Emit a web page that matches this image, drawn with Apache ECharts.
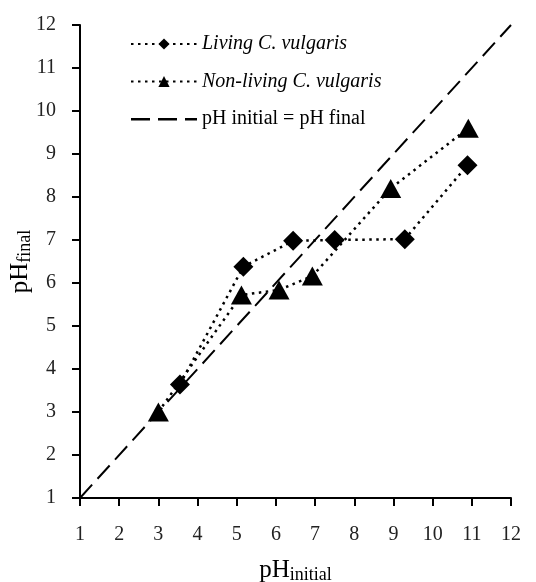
<!DOCTYPE html>
<html>
<head>
<meta charset="utf-8">
<script src="https://cdn.jsdelivr.net/npm/echarts@6.0.0/dist/echarts.min.js"></script>
<style>
  html, body { margin: 0; padding: 0; background: #fff; }
  #chart { width: 536px; height: 582px; }
</style>
</head>
<body>
<div id="chart"></div>
<script>
// 数据：pH 初始值 / 最终值
const 活体名称 = 'Living C. vulgaris'
const 非活体名称 = 'Non-living C. vulgaris'
const 参考线名称 = 'pH initial = pH final'

const 活体初始 = [3.55, 5.17, 6.44, 7.5, 9.29, 10.89]
const 活体最终 = [3.64, 6.38, 6.98, 7.0, 7.02, 8.74]

const 非活体初始 = [3.0, 5.12, 6.08, 6.93, 8.93, 10.91]
const 非活体最终 = [3.0, 5.72, 5.84, 6.16, 8.2, 9.6]

const 参考线端点 = [1, 12]
const 刻度列表 = [1, 2, 3, 4, 5, 6, 7, 8, 9, 10, 11, 12]

const 字体 = '"Liberation Serif", "DejaVu Serif", serif'

// 虚线图例图标：66x14 的框，上下各放一个极小的点撑开尺寸
const 虚线图标 =
  'path://M0,0H0.01V0.01H0Z M0,13.99H0.01V14H0Z ' +
  'M0,6H19V8.4H0Z M27,6H46V8.4H27Z M54,6H66V8.4H54Z'

function 组合(横列表, 纵列表) {
  return 横列表.map((横, 索引) => [横, 纵列表[索引]])
}

const 坐标轴公共 = {
  type: 'value',
  min: 刻度列表[0],
  max: 刻度列表[刻度列表.length - 1],
  interval: 1,
  splitLine: { show: false },
  axisLine: { show: true, lineStyle: { color: '#000', width: 2 } },
  axisTick: { show: true, inside: false, length: 8, lineStyle: { color: '#000', width: 2 } },
  axisLabel: { color: '#222', fontFamily: 字体, fontSize: 20 },
}

const 轴名样式 = {
  rich: {
    a: { fontFamily: 字体, fontSize: 25, color: '#000' },
    b: { fontFamily: 字体, fontSize: 18, color: '#000', padding: [10, 0, 0, 0] },
  },
}

const 图表 = echarts.init(document.getElementById('chart'))
图表.setOption({
  animation: false,
  backgroundColor: '#fff',
  grid: { left: 80, right: 25, top: 25, bottom: 84, outerBoundsMode: 'none' },
  legend: {
    orient: 'vertical',
    left: 130,
    top: 34,
    padding: 0,
    itemWidth: 66,
    itemHeight: 14,
    itemGap: 17.5,
    textStyle: { color: '#000', fontFamily: 字体, fontSize: 20 },
    data: [
      { name: 活体名称, textStyle: { fontStyle: 'italic' } },
      { name: 非活体名称, textStyle: { fontStyle: 'italic' } },
      { name: 参考线名称, icon: 虚线图标 },
    ],
  },
  xAxis: {
    ...坐标轴公共,
    axisLabel: { ...坐标轴公共.axisLabel, margin: 27 },
    name: '{a|pH}{b|initial}',
    nameLocation: 'middle',
    nameGap: 58,
    nameTextStyle: 轴名样式,
  },
  yAxis: {
    ...坐标轴公共,
    axisLabel: { ...坐标轴公共.axisLabel, margin: 24 },
    name: '{a|pH}{b|final}',
    nameLocation: 'middle',
    nameGap: 46,
    nameMoveOverlap: false,
    nameTextStyle: 轴名样式,
  },
  series: [
    {
      name: 参考线名称,
      type: 'line',
      data: 组合(参考线端点, 参考线端点),
      symbol: 'none',
      lineStyle: { color: '#000', width: 2, type: [18, 8] },
      itemStyle: { color: '#000' },
      z: 1,
    },
    {
      name: 活体名称,
      type: 'line',
      data: 组合(活体初始, 活体最终),
      symbol: 'diamond',
      symbolSize: [20, 20],
      lineStyle: { color: '#000', width: 2.5, type: [2.5, 4.5] },
      itemStyle: { color: '#000' },
      z: 3,
    },
    {
      name: 非活体名称,
      type: 'line',
      data: 组合(非活体初始, 非活体最终),
      symbol: 'triangle',
      symbolSize: [21, 19],
      lineStyle: { color: '#000', width: 2.5, type: [2.5, 4.5] },
      itemStyle: { color: '#000' },
      z: 3,
    },
  ],
})
</script>
</body>
</html>
